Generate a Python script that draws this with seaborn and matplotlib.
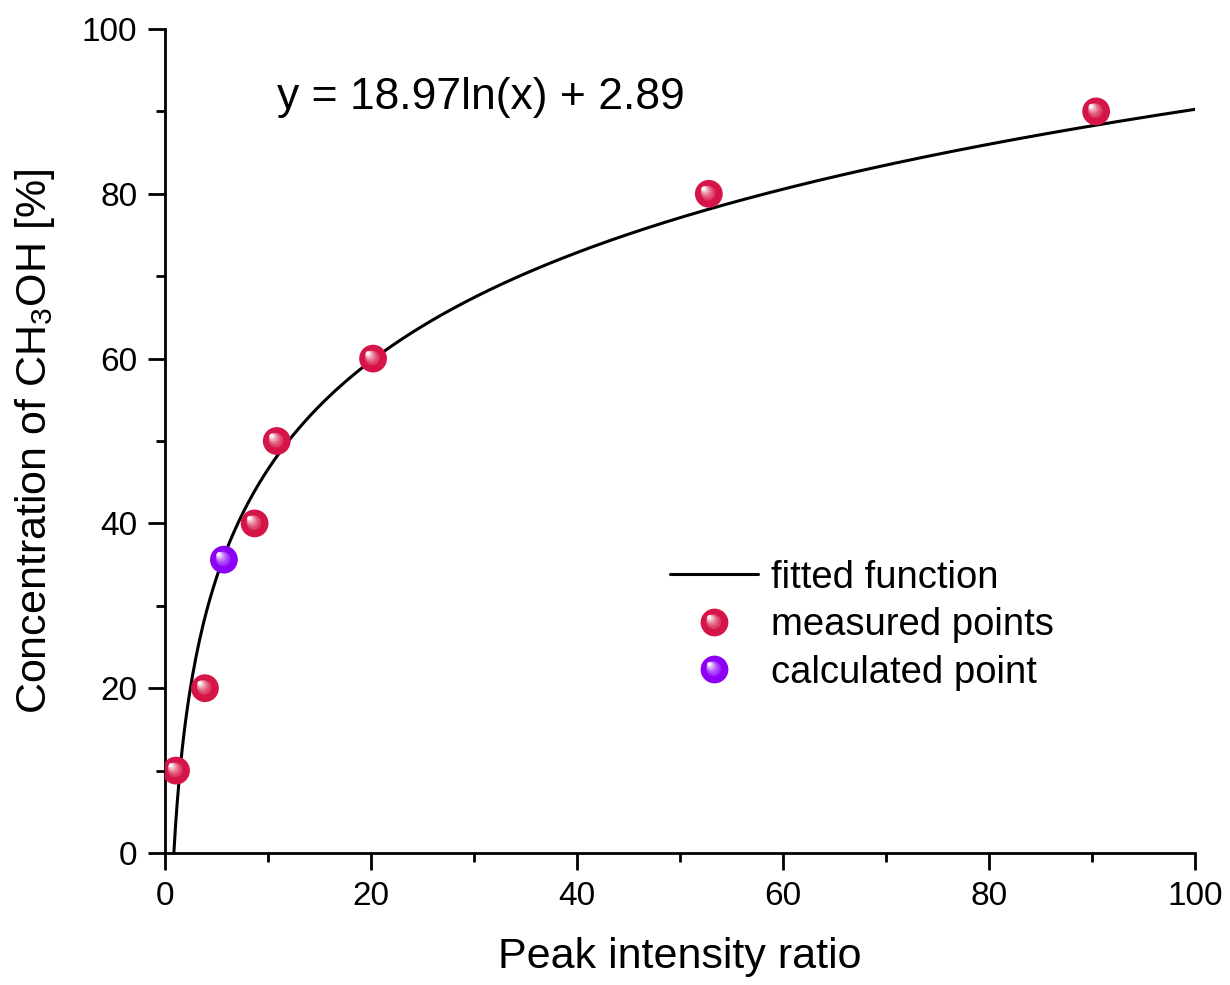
import numpy as np
import pandas as pd
import seaborn as sns
import matplotlib
matplotlib.use("Agg")
import matplotlib.pyplot as plt
from matplotlib.path import Path
from matplotlib.lines import Line2D
from matplotlib.legend_handler import HandlerTuple
from matplotlib.colors import to_rgb

# ---- data ----
measured_x = [1.07, 3.88, 8.7, 10.85, 20.2, 52.8, 90.4]
measured_y = [10, 20, 40, 50, 60, 80, 90]
calc_x = [5.72]
calc_y = [35.6]
fit_a = 18.97
fit_b = 2.89
x_ticks = [0, 20, 40, 60, 80, 100]
y_ticks = [0, 20, 40, 60, 80, 100]

sns.set_theme(style="ticks")
plt.rcParams["font.family"] = ["Liberation Sans", "DejaVu Sans"]
plt.rcParams["mathtext.fontset"] = "custom"
plt.rcParams["mathtext.rm"] = "Liberation Sans"
plt.rcParams["mathtext.default"] = "regular"
plt.rcParams["text.color"] = "black"

fig = plt.figure(figsize=(12.3, 9.85), dpi=100)
ax = fig.add_axes([165 / 1230, 1 - 853 / 985, (1195 - 165) / 1230, (853 - 29) / 985])

# fitted curve
x0 = np.exp(-fit_b / fit_a)
xf = np.linspace(x0, 100, 600)
fit_df = pd.DataFrame({"x": xf, "y": fit_a * np.log(xf) + fit_b})
sns.lineplot(data=fit_df, x="x", y="y", ax=ax, color="black", lw=2.2, sort=False)

MS = 20.0  # marker size in points


def sphere_layers(base):
    """Return list of (path_marker, markersize, color) for a shaded sphere."""
    layers = [("o", MS, base)]
    b = np.array(to_rgb(base))
    w = np.array([1.0, 1.0, 1.0])
    n = 7
    for i in range(n):
        t = (i + 1) / n
        cx, cy = -0.19 * t, 0.19 * t
        r = 0.30 * (1 - t) + 0.07 * t
        col = b + (w - b) * (0.12 + 0.85 * t ** 1.6)
        circ = Path.circle((cx, cy), r)
        maxabs = np.max(np.abs(circ.vertices))
        layers.append((circ, MS * maxabs / 0.5, tuple(np.clip(col, 0, 1))))
    return layers


red = "#d51447"
violet = "#8c00f5"

for xs, ys, c in [(measured_x, measured_y, red), (calc_x, calc_y, violet)]:
    df = pd.DataFrame({"x": xs, "y": ys})
    for mk, ms, col in sphere_layers(c):
        sns.scatterplot(data=df, x="x", y="y", ax=ax, marker=mk, s=ms ** 2,
                        color=col, edgecolor="none", linewidth=0, zorder=5)


def legend_handle(c):
    return tuple(Line2D([], [], ls="none", marker=mk, markersize=ms,
                        markerfacecolor=col, markeredgecolor="none")
                 for mk, ms, col in sphere_layers(c))


handles = [Line2D([], [], color="black", lw=2.2), legend_handle(red), legend_handle(violet)]
labels = ["fitted function", "measured points", "calculated point"]
ax.legend(handles, labels, handler_map={tuple: HandlerTuple(ndivide=1, pad=0)},
          loc="upper left", bbox_to_anchor=(0.49, 0.356), frameon=False,
          fontsize=27.5, borderpad=0, borderaxespad=0, handlelength=2.3,
          handletextpad=0.35, labelspacing=0.3, labelcolor="black")

ax.text(10.9, 91.7, f"y = {fit_a:.2f}ln(x) + {fit_b:.2f}", fontsize=32,
        va="center", ha="left", color="black")

ax.set_xlim(0, 100)
ax.set_ylim(0, 100)
ax.set_xticks(x_ticks)
ax.set_yticks(y_ticks)
ax.set_xticks(np.arange(10, 100, 20), minor=True)
ax.set_yticks(np.arange(10, 100, 20), minor=True)
ax.tick_params(which="major", direction="out", length=12, width=2, labelsize=24,
               pad=8, color="black", labelcolor="black")
ax.tick_params(which="minor", direction="out", length=6.5, width=2, color="black")
ax.set_xlabel("Peak intensity ratio", fontsize=31, labelpad=18, color="black")
ax.set_ylabel("Concentration of CH$_3$OH [%]", fontsize=31, labelpad=18, color="black")
for s in ["top", "right"]:
    ax.spines[s].set_visible(False)
for s in ["left", "bottom"]:
    ax.spines[s].set_linewidth(2)
    ax.spines[s].set_color("black")
ax.set_facecolor("white")
fig.patch.set_facecolor("white")

fig.savefig("out.png", dpi=100)
